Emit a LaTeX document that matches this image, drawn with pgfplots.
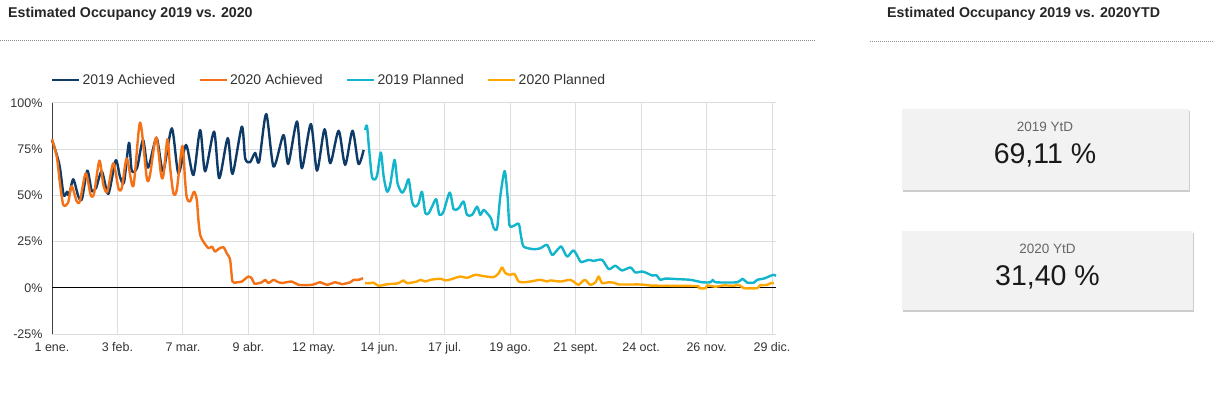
\documentclass[border=0pt]{standalone}
\usepackage{fontspec}
\setmainfont{Liberation Sans}
\usepackage{pgfplots}
\pgfplotsset{compat=1.18}
\usetikzlibrary{shadows}
\definecolor{navy}{HTML}{0E3A67}
\definecolor{orng}{HTML}{F47116}
\definecolor{cyn}{HTML}{12B5CB}
\definecolor{ambr}{HTML}{FFA600}
\definecolor{gridc}{HTML}{DDDDDD}
\definecolor{boxc}{HTML}{F2F2F2}
\begin{document}
\begin{tikzpicture}
\path[use as bounding box] (0pt,0pt) rectangle (1221pt,-398pt);
% titles
\node[anchor=west, inner sep=0pt, font=\fontsize{14.2}{16}\selectfont\bfseries, text=black!85] at (8pt,-14pt) {Estimated Occupancy 2019 vs. 2020};
\draw[black!45, line width=0.8pt, dash pattern=on 1pt off 1pt] (0pt,-40.5pt) -- (815pt,-40.5pt);
\node[anchor=west, inner sep=0pt, font=\fontsize{14.2}{16}\selectfont\bfseries, text=black!85] at (887pt,-14pt) {Estimated Occupancy 2019 vs. 2020YTD};
\draw[black!45, line width=0.8pt, dash pattern=on 1pt off 1pt] (870pt,-41pt) -- (1213pt,-41pt);
% KPI boxes
\fill[boxc, drop shadow={opacity=0.4, shadow xshift=0.8pt, shadow yshift=-1.8pt}] (902pt,-109pt) rectangle (1189pt,-190pt);
\node[font=\fontsize{13.5}{15}\selectfont, text=black!60] at (1045pt,-127pt) {2019 YtD};
\node[font=\fontsize{28.5}{32}\selectfont, text=black!90] at (1045pt,-155pt) {69,11 \%};
\fill[boxc, drop shadow={opacity=0.4, shadow xshift=0.8pt, shadow yshift=-1.8pt}] (902pt,-231pt) rectangle (1193pt,-310pt);
\node[font=\fontsize{13.5}{15}\selectfont, text=black!60] at (1047.5pt,-249pt) {2020 YtD};
\node[font=\fontsize{28.5}{32}\selectfont, text=black!90] at (1047.5pt,-277pt) {31,40 \%};
\begin{axis}[
  at={(52pt,-334pt)}, anchor=south west,
  width=724pt, height=231pt, scale only axis,
  xmin=0, xmax=365, ymin=-25, ymax=100,
  axis lines*=left,
  x axis line style={gridc, line width=1pt},
  y axis line style={black!75, line width=1pt},
  major tick length=0pt,
  xtick={0,33,66,99,132,165,198,231,264,297,330,363},
  xticklabels={1 ene.,3 feb.,7 mar.,9 abr.,12 may.,14 jun.,17 jul.,19 ago.,21 sept.,24 oct.,26 nov.,29 dic.},
  ytick={-25,0,25,50,75,100},
  yticklabels={-25\%,0\%,25\%,50\%,75\%,100\%},
  extra y ticks={0}, extra y tick labels={},
  extra y tick style={grid style={black, line width=0.9pt}},
  grid=major, grid style={gridc, line width=1pt},
  tick label style={font=\fontsize{12.5}{14}\selectfont, text=black!80},
  /pgf/number format/assume math mode=true,
  xticklabel style={yshift=-5pt},
  yticklabel style={xshift=-6pt},
  legend columns=4,
  legend style={at={(-0.006,1.0996)}, anchor=west, draw=none, fill=none,
     font=\fontsize{14}{16}\selectfont, text=black!80,
     /tikz/every even column/.append style={column sep=21pt}},
  legend image code/.code={\draw[#1, line width=2.8pt] (0pt,0pt) -- (27pt,0pt);},
  every axis plot/.append style={line width=2.4pt, line join=round, smooth, tension=0.45},
  clip=false,
]
\addplot[navy] coordinates {
(0,80) (2.4,72) (4.0,65) (5.7,51) (6.6,50) (7.6,52) (8.6,50) (10.7,58.7) (13.3,49.4) (15.1,48)
(17.8,63.4) (20.0,52.6) (22.2,54) (25.1,63) (28.4,50.8) (32.1,69) (34.3,60) (36.3,57) (38.8,78.5)
(40.2,63.4) (42.9,65) (45.9,80) (48.4,65) (52.7,81) (56.0,63) (60.4,86.3) (63.7,62) (67.6,77.3)
(71.3,61) (74.7,85.4) (77.2,63) (81.7,84.5) (84.3,59.3) (88.6,81) (91.0,61.6) (95.7,87.2) (97.4,70)
(99.9,68) (102.4,73) (104.4,68) (108.0,94) (111.7,65.6) (116.7,82.7) (119.1,67) (123.5,90) (126.0,64.7)
(130.5,88.6) (133.6,63.4) (137.4,85.8) (140.3,67.4) (144.5,85) (147.8,66.5) (151.5,85) (154.5,67) (157.1,74.6)
};
\addlegendentry{2019 Achieved}
\addplot[orng] coordinates {
(0,80.4) (2.4,71) (4.0,56.6) (5.7,44.9) (8.1,46) (9.9,55) (12.5,46.7) (14.1,47) (17.0,62) (19.5,50.3)
(21.2,51) (23.9,68.8) (25.9,55.7) (27.9,52) (30.9,67.4) (33.5,53.9) (35.2,54) (37.7,70) (41.0,55)
(44.4,89.4) (47.8,59.3) (49.4,61) (52.5,81.4) (55.0,61) (56.2,61) (58.2,80.4) (59.5,65.6) (61.2,51.2)
(62.9,53) (65.7,76.8) (67.1,58) (68.0,48.5) (69.6,46.7) (71.6,52) (73.0,47.6) (73.8,36.8) (74.7,28.6)
(76.3,25) (78.9,21.4) (80.6,22.3) (82.2,19.6) (83.9,21) (86.4,22) (88.1,18.7) (89.8,15.1) (91.0,3.4)
(93.2,3) (95.7,3.4) (99.0,6.1) (100.8,5) (102.1,2.2) (105.8,3) (107.5,4.3) (109.1,2.6) (111.7,4.3)
(113.4,3.4) (115.9,2.6) (120.9,3.4) (124.3,1.6) (131.0,1.6) (135.2,3) (138.6,1.6) (142.8,3) (146.2,2)
(150.4,3) (152.0,4.3) (154.5,4.3) (156.8,5.2)
};
\addlegendentry{2020 Achieved}
\addplot[cyn] coordinates {
(157.9,85.4) (158.8,87.6) (159.9,74.6) (161.3,60.2) (163.0,58.7) (164.1,62) (165.8,73.2) (167.2,60.2)
(168.9,52) (170.5,55.7) (172.7,69.2) (174.2,56.6) (176.4,51.5) (178.1,53.9) (179.8,58.7) (181.5,46.7)
(183.1,43.9) (184.8,45.7) (186.5,52) (188.2,40.4) (189.9,40.4) (191.6,43.9) (193.7,47.9) (195.3,39.5)
(197.4,41.3) (200.5,51.5) (202.5,42.5) (205.0,43) (207.5,46.7) (209.2,39.5) (211.8,39.5) (214.3,43.9)
(215.9,39.5) (217.6,42.2) (219.3,40.4) (221.3,37.7) (222.7,32.3) (224.4,32.3) (226.0,49.4) (228.2,63.2)
(229.7,49) (230.6,34) (232.7,33.5) (235.3,34.6) (236.5,27.7) (237.8,22.3) (242.8,20.9) (246.2,21.4)
(249.6,23.2) (252.1,17.8) (254.6,20.3) (256.8,22.3) (259.7,16.9) (263.0,20.2) (266.4,14.2) (268.0,14.2)
(270.6,15.1) (273.1,14.6) (277.3,15.1) (280.7,10.1) (284.0,11.9) (287.4,9.4) (291.6,11) (294.1,8.3)
(297.5,8.8) (300.0,7.9) (302.7,6.6) (304.7,6.8) (306.7,4.3) (309.2,5) (315.2,4.7) (321.9,4.3) (327.8,3)
(332.0,3) (333.2,4.3) (334.5,3) (345.5,3) (348.0,4.9) (350.5,2.8) (353.8,2.8) (355.5,4.3) (358.9,5)
(361.4,6.1) (363.6,7) (365,6.5)
};
\addlegendentry{2019 Planned}
\addplot[ambr] coordinates {
(157.9,2.5) (160.4,2.5) (162.1,2.8) (164.6,1.1) (168.9,1.9) (172.2,2.2) (174.7,2.5) (177.2,4) (179.0,2.5)
(184.0,3.4) (185.7,4.3) (188.2,3.4) (190.7,4.3) (195.8,4.9) (198.3,4) (200.8,4.5) (205.8,6.1) (209.2,5.4)
(213.4,7) (217.6,6.3) (222.7,5.8) (225.2,7.9) (226.9,11) (228.6,7.9) (231.1,7) (233.1,7.5) (235.3,3.4)
(237.8,3) (241.2,3.4) (246.2,4.3) (249.6,3.4) (251.3,4) (256.3,3.4) (261.3,4.3) (263.9,2.6) (265.5,1.6)
(268.6,4.3) (271.4,1.6) (274.0,3) (275.6,6.1) (277.3,2.6) (280.7,3) (284.0,2.6) (285.7,1.8) (296.7,1.8)
(301.8,1.2) (310.1,1.1) (325.3,0.9) (326.1,-0.2) (329.5,-0.2) (330.3,1.3) (334.5,0.6) (338.7,1.3)
(343.8,1.1) (346.3,1.6) (348.8,-0.2) (355.5,-0.2) (356.9,1.3) (360.6,1.6) (362.3,2.5) (363.9,2.5)
};
\addlegendentry{2020 Planned}
\end{axis}
\end{tikzpicture}
\end{document}
